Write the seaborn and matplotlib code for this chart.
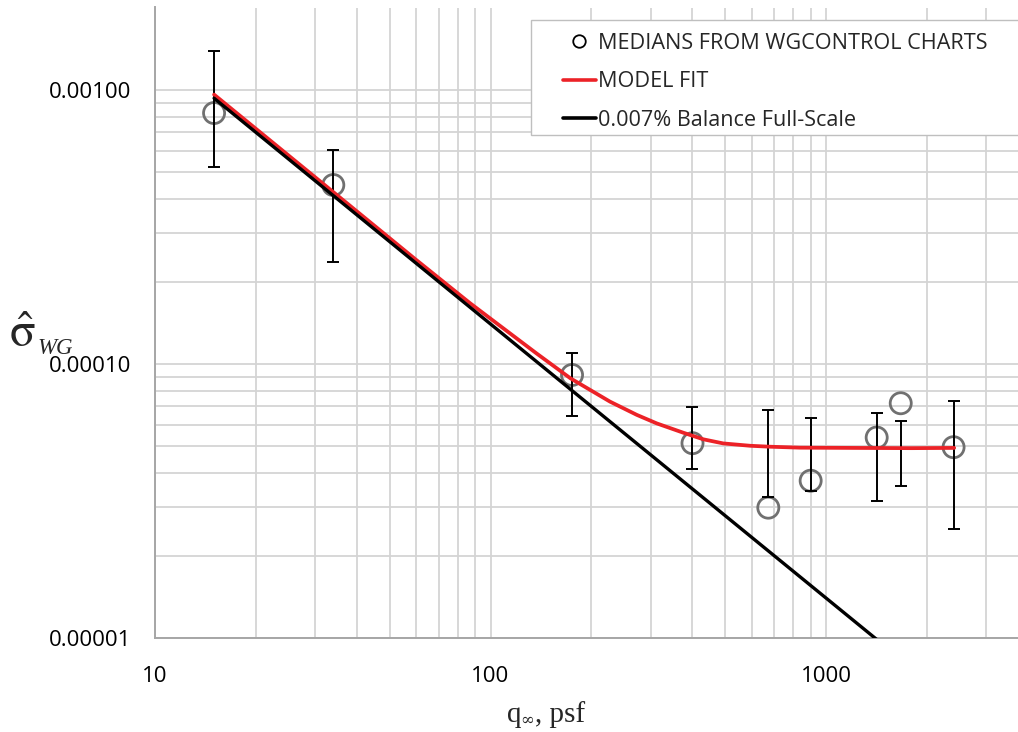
import numpy as np
import pandas as pd
import matplotlib
matplotlib.use("Agg")
import matplotlib.pyplot as plt
import seaborn as sns
from matplotlib.lines import Line2D
from matplotlib.patches import Rectangle
from matplotlib.ticker import LogLocator, NullFormatter

# ---------------- data ----------------
q_med = [15, 34, 175, 400, 673, 900, 1416, 1670, 2400]
sig_med = [8.24e-4, 4.50e-4, 9.12e-5, 5.14e-5, 2.99e-5, 3.75e-5, 5.39e-5, 7.19e-5, 4.97e-5]
err_hi = [1.39e-3, 6.02e-4, 1.10e-4, 6.97e-5, 6.77e-5, 6.35e-5, 6.61e-5, 6.19e-5, 7.33e-5]
err_lo = [5.23e-4, 2.35e-4, 6.45e-5, 4.15e-5, 3.28e-5, 3.45e-5, 3.17e-5, 3.60e-5, 2.49e-5]

fit_q = [15, 34, 60, 87, 137, 173, 227, 273, 313, 376, 431, 494, 594, 681, 836, 1200, 1800, 2410]
fit_sig = [9.62e-4, 4.24e-4, 2.40e-4, 1.665e-4, 1.094e-4, 8.87e-5, 7.29e-5, 6.52e-5, 6.07e-5,
           5.61e-5, 5.31e-5, 5.13e-5, 5.03e-5, 4.99e-5, 4.95e-5, 4.94e-5, 4.93e-5, 4.94e-5]

bal_q = [15, 2400]
bal_sig = [9.33e-4, 5.83e-6]

x_ticks = [10, 100, 1000]
x_ticklabels = ["10", "100", "1000"]
y_ticks = [1e-5, 1e-4, 1e-3]
y_ticklabels = ["0.00001", "0.00010", "0.00100"]

legend_labels = ["MEDIANS FROM WGCONTROL CHARTS", "MODEL FIT", "0.007% Balance Full-Scale"]

# ---------------- style ----------------
sns.set_theme(style="white")
plt.rcParams["font.family"] = ["Open Sans", "DejaVu Sans"]
plt.rcParams["mathtext.fontset"] = "stix"

W, H = 1018, 732
fig = plt.figure(figsize=(W / 100, H / 100), dpi=100)
ax = fig.add_axes([155 / W, 94 / H, 873 / W, 630.5 / H])

med_df = pd.DataFrame({"q": q_med, "sig": sig_med})
fit_df = pd.DataFrame({"q": fit_q, "sig": fit_sig})
bal_df = pd.DataFrame({"q": bal_q, "sig": bal_sig})

ax.set_xscale("log")
ax.set_yscale("log")

sns.scatterplot(data=med_df, x="q", y="sig", ax=ax, marker="o", s=230,
                facecolor="none", edgecolor="#707070", linewidth=2.0, zorder=3)

span = np.array(err_hi) - np.array(err_lo)
ax.errorbar(q_med, err_lo, yerr=[np.zeros_like(span), span], fmt="none", ecolor="black",
            elinewidth=1.4, capsize=4.5, capthick=1.4, zorder=4)

sns.lineplot(data=fit_df, x="q", y="sig", ax=ax, color="#ec2227", linewidth=2.7,
             sort=False, estimator=None, zorder=5)
sns.lineplot(data=bal_df, x="q", y="sig", ax=ax, color="black", linewidth=2.4,
             sort=False, estimator=None, zorder=6)

ax.set_xlim(10, 4000)
ax.set_ylim(1e-5, 2e-3)

ax.set_xticks(x_ticks)
ax.set_xticklabels(x_ticklabels)
ax.set_yticks(y_ticks)
ax.set_yticklabels(y_ticklabels)
ax.xaxis.set_minor_locator(LogLocator(base=10, subs=np.arange(2, 10)))
ax.yaxis.set_minor_locator(LogLocator(base=10, subs=np.arange(2, 10)))
ax.xaxis.set_minor_formatter(NullFormatter())
ax.yaxis.set_minor_formatter(NullFormatter())
ax.tick_params(axis="both", which="both", length=0, labelsize=16, colors="black")
ax.tick_params(axis="x", pad=20)
ax.tick_params(axis="y", pad=17)

ax.grid(True, which="both", color="#d4d4d4", linewidth=1.3)
ax.set_axisbelow(True)
for s in ["top", "right"]:
    ax.spines[s].set_visible(False)
for s in ["left", "bottom"]:
    ax.spines[s].set_color("#a6a6a6")
    ax.spines[s].set_linewidth(1.4)
ax.set_xlabel("")
ax.set_ylabel("")

# y axis title: sigma-hat with WG subscript
fig.text(9 / W, 1 - 347 / H, r"$\hat{\mathrm{\sigma}}$", fontsize=34, ha="left",
         va="baseline")
fig.text(37 / W, 1 - 354 / H, "WG", fontsize=16.5, ha="left", va="baseline",
         family="Liberation Serif", style="italic")

# x axis title: q_inf, psf
fig.text(507 / W, 1 - 722 / H, "q", fontsize=21, ha="left", va="baseline",
         family="Liberation Serif")
fig.text(520 / W, 1 - 725 / H, "\u221e", fontsize=12, ha="left", va="baseline",
         family="DejaVu Serif")
fig.text(535 / W, 1 - 722 / H, ", psf", fontsize=21, ha="left", va="baseline",
         family="Liberation Serif")

# legend
fig.patches.append(Rectangle((531 / W, 1 - 135 / H), (1040 - 531) / W, 115 / H,
                             transform=fig.transFigure, facecolor="white",
                             edgecolor="#bfbfbf", linewidth=1.0, zorder=10))
handles = [
    Line2D([], [], marker="o", linestyle="none", markerfacecolor="none",
           markeredgecolor="black", markersize=9, markeredgewidth=1.3),
    Line2D([], [], color="#ec2227", linewidth=2.6),
    Line2D([], [], color="black", linewidth=2.6),
]
leg = fig.legend(handles, legend_labels, loc="upper left",
                 bbox_to_anchor=(563 / W, 1 - 33 / H), bbox_transform=fig.transFigure,
                 frameon=False, fontsize=15.6, handlelength=1.5, handletextpad=0.1,
                 labelspacing=0.8, borderpad=0, borderaxespad=0)
leg.set_zorder(11)

fig.savefig("out.png", dpi=100)
